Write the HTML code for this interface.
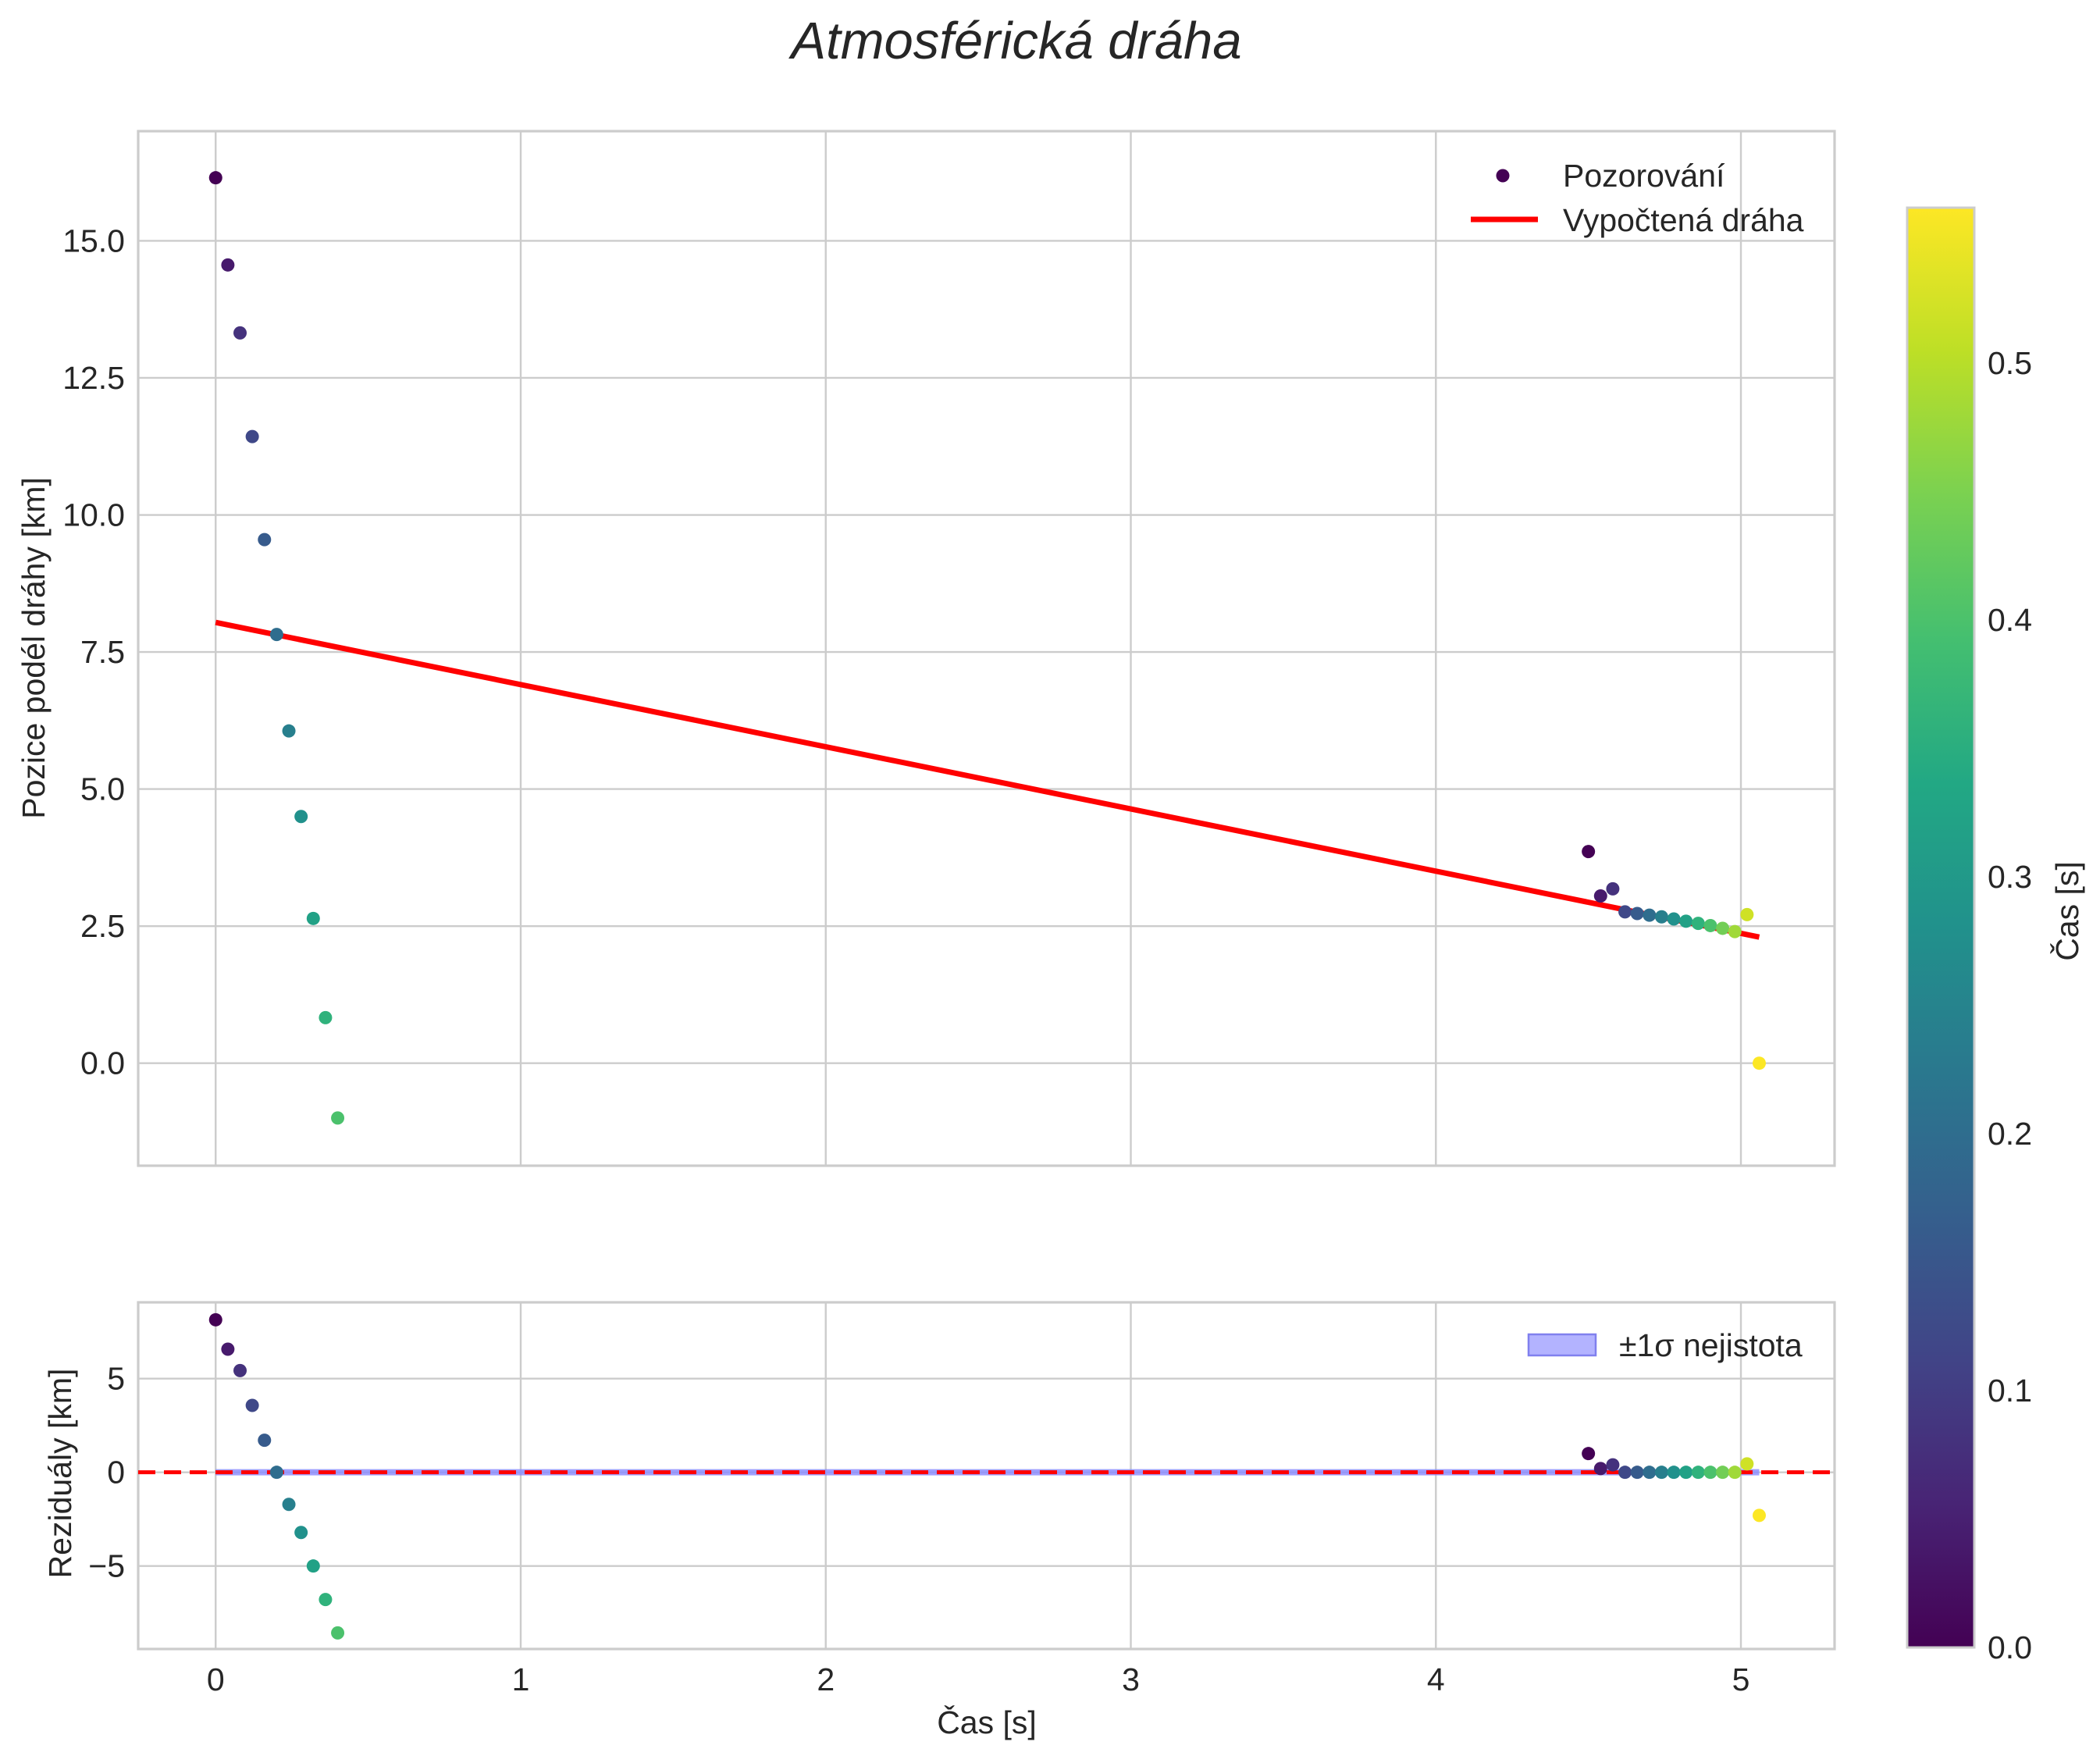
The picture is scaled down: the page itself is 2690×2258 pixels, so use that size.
<!DOCTYPE html>
<html><head><meta charset="utf-8"><style>
html,body{margin:0;padding:0;background:#fff}
svg text{font-family:"Liberation Sans",sans-serif;fill:#262626}
</style></head><body>
<svg id="chart" width="2690" height="2253" xmlns="http://www.w3.org/2000/svg">
<defs>
<linearGradient id="vir" x1="0" y1="1" x2="0" y2="0">
<stop offset="0" stop-color="#440154"/><stop offset="0.1" stop-color="#482475"/><stop offset="0.2" stop-color="#414487"/><stop offset="0.3" stop-color="#355f8d"/><stop offset="0.4" stop-color="#2a788e"/><stop offset="0.5" stop-color="#21918c"/><stop offset="0.6" stop-color="#22a884"/><stop offset="0.7" stop-color="#44bf70"/><stop offset="0.8" stop-color="#7ad151"/><stop offset="0.9" stop-color="#bddf26"/><stop offset="1" stop-color="#fde725"/>
</linearGradient>
</defs>
<text x="1302" y="75" font-size="67" font-style="italic" text-anchor="middle">Atmosférická dráha</text>
<g id="gtop"></g>
<g id="gbot"></g>
<g id="gcb"></g>
</svg>
<script>
const times = [0,0.04,0.08,0.12,0.16,0.20,0.24,0.28,0.32,0.36,0.40,4.50,4.54,4.58,4.62,4.66,4.70,4.74,4.78,4.82,4.86,4.90,4.94,4.98,5.02,5.06];
const positions = [16.15,14.56,13.32,11.43,9.55,7.82,6.06,4.50,2.64,0.83,-1.0,3.86,3.05,3.18,2.76,2.73,2.70,2.67,2.63,2.59,2.55,2.51,2.46,2.40,2.71,0.0];
const colorValues = [0,0.04,0.08,0.12,0.16,0.20,0.24,0.28,0.32,0.36,0.40,0,0.04,0.08,0.12,0.16,0.20,0.24,0.28,0.32,0.36,0.40,0.44,0.48,0.52,0.56];
const residuals = [8.14,6.57,5.43,3.57,1.71,0,-1.71,-3.21,-5.0,-6.79,-8.57,1.0,0.2,0.4,0,0,0,0,0,0,0,0,0,0,0.45,-2.3];
const fitT = [0,5.06];
const fitY = [8.04,2.30];
const xTicks = [0,1,2,3,4,5];
const topYTicks = [0,2.5,5,7.5,10,12.5,15];
const botYTicks = [-5,0,5];
const cbTicks = [0,0.1,0.2,0.3,0.4,0.5];

const NS="http://www.w3.org/2000/svg";
function el(p,tag,a,txt){const e=document.createElementNS(NS,tag);for(const k in a)e.setAttribute(k,a[k]);if(txt!==undefined)e.textContent=txt;p.appendChild(e);return e;}
const FS=41;
const L=177,R=2350;
const xs=v=>L+(v-(-0.254))/(5.307+0.254)*(R-L);
const T1=168,B1=1493; const ys1=v=>B1-(v-(-1.87))/(17.0+1.87)*(B1-T1);
const T2=1668,B2=2112; const ys2=v=>B2-(v-(-9.43))/(9.07+9.43)*(B2-T2);
const vir=["#440154","#482475","#414487","#355f8d","#2a788e","#21918c","#22a884","#44bf70","#7ad151","#bddf26","#fde725"];
const CMAX=0.5605;
function cmap(v){let f=Math.max(0,Math.min(1,v/CMAX))*10;let i=Math.min(9,Math.floor(f));let t=f-i;
 const a=vir[i],b=vir[i+1];const h=(s,o)=>parseInt(s.substr(o,2),16);
 const c=[1,3,5].map(o=>Math.round(h(a,o)*(1-t)+h(b,o)*t));return `rgb(${c.join(',')})`;}

const gTop=document.getElementById('gtop'),gBot=document.getElementById('gbot'),gCb=document.getElementById('gcb');
function frame(g,T,B,ys,yt,fmt){
 xTicks.forEach(v=>{const l=el(g,'line',{x1:xs(v),x2:xs(v),y1:T,y2:B,stroke:'#cccccc','stroke-width':2.4});
  });
 yt.forEach(v=>{const l=el(g,'line',{x1:L,x2:R,y1:ys(v),y2:ys(v),stroke:'#cccccc','stroke-width':2.4});
  
  const t=el(g,'text',{x:L-17,y:ys(v)+14,'font-size':FS,'text-anchor':'end'},fmt(v));
  });
 const r=el(g,'rect',{x:L,y:T,width:R-L,height:B-T,fill:'none',stroke:'#cccccc','stroke-width':3.2});
 
}
frame(gTop,T1,B1,ys1,topYTicks,v=>v.toFixed(1));
frame(gBot,T2,B2,ys2,botYTicks,v=>v<0?'\u2212'+(-v):String(v));
xTicks.forEach(v=>{const t=el(gBot,'text',{x:xs(v),y:2165,'font-size':FS,'text-anchor':'middle'},String(v));
 });

const fl=el(gTop,'line',{x1:xs(fitT[0]),y1:ys1(fitY[0]),x2:xs(fitT[1]),y2:ys1(fitY[1]),stroke:'#ff0000','stroke-width':7});

times.forEach((t,i)=>{const c=el(gTop,'circle',{cx:xs(t),cy:ys1(positions[i]),r:8.5,fill:cmap(colorValues[i])});
 });

const band=el(gBot,'line',{x1:xs(0),x2:xs(5.06),y1:ys2(0),y2:ys2(0),stroke:'#8888ff','stroke-width':8,'stroke-opacity':0.8});

const zl=el(gBot,'line',{x1:L,x2:R,y1:ys2(0),y2:ys2(0),stroke:'#ff0000','stroke-width':5,'stroke-dasharray':'22 11'});

times.forEach((t,i)=>{const c=el(gBot,'circle',{cx:xs(t),cy:ys2(residuals[i]),r:8.5,fill:cmap(colorValues[i])});
 });

const lg=el(gTop,'g',{});
el(lg,'circle',{cx:1925,cy:225,r:8.5,fill:'#440154'});
el(lg,'text',{x:2002,y:239,'font-size':FS},'Pozorování');
el(lg,'line',{x1:1884,x2:1970,y1:281,y2:281,stroke:'#ff0000','stroke-width':7});
el(lg,'text',{x:2002,y:296,'font-size':FS},'Vypočtená dráha');
const lg2=el(gBot,'g',{});
el(lg2,'rect',{x:1958,y:1709,width:86,height:27,fill:'#b3b3ff',stroke:'#8080ee','stroke-width':2.5});
el(lg2,'text',{x:2074,y:1737,'font-size':FS},'±1σ nejistota');

const yl1=el(gTop,'text',{x:0,y:0,'font-size':FS,'text-anchor':'middle',transform:'translate(57,830) rotate(-90)'},'Pozice podél dráhy [km]');

const yl2=el(gBot,'text',{x:0,y:0,'font-size':FS,'text-anchor':'middle',transform:'translate(91,1887) rotate(-90)'},'Reziduály [km]');

const xl=el(gBot,'text',{x:1264,y:2220,'font-size':FS,'text-anchor':'middle'},'Čas [s]');


const CT=266,CB=2110,CL=2443,CR=2529;
const cs=v=>CB-v/CMAX*(CB-CT);
el(gCb,'rect',{x:CL,y:CT,width:CR-CL,height:CB-CT,fill:'url(#vir)',stroke:'#cccccc','stroke-width':3});
cbTicks.forEach(v=>{const t=el(gCb,'text',{x:2546,y:cs(v)+14,'font-size':FS},v.toFixed(1));
 });
const cl=el(gCb,'text',{x:0,y:0,'font-size':FS,'text-anchor':'middle',transform:'translate(2662,1167) rotate(-90)'},'Čas [s]');

</script>
</body></html>
